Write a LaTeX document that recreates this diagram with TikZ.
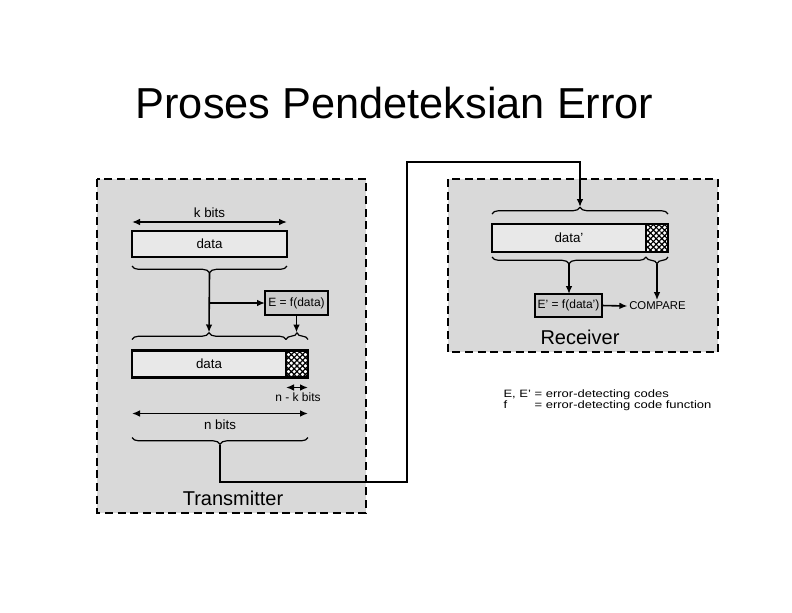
\documentclass[tikz,border=0pt]{standalone}
\usepackage{fontspec}
\usepackage{graphicx}
\setmainfont{Liberation Sans}
\usetikzlibrary{arrows.meta,calc,positioning,decorations.pathreplacing,patterns.meta}

\tikzset{every picture/.style={line width=0.75pt}}
\tikzset{
  sidebox/.style={draw, line width=1.4, dash pattern=on 6pt off 3.5pt, fill=black!15},
  databox/.style={draw, line width=1.6, fill=black!9, outer sep=0pt, inner sep=0pt, font=\fontsize{10}{12}\selectfont},
  codebox/.style={databox, fill=white, postaction={pattern={Hatch[angle=45,distance=3pt,line width=0.9pt]}}},
  funbox/.style={draw, line width=1.6, fill=black!20, inner sep=1pt, outer sep=0pt, font=\fontsize{9}{11}\selectfont},
  bitlbl/.style={inner sep=0.75pt, font=\fontsize{10}{12}\selectfont},
  smalllbl/.style={inner sep=0.75pt, font=\fontsize{9}{11}\selectfont},
  sidelbl/.style={inner sep=0.75pt, font=\fontsize{15}{18}\selectfont},
  curly/.style={decorate, decoration={brace, amplitude=5pt}, line width=0.9},
  flow/.style={line width=1.2, -{Latex[length=6pt,width=5pt]}},
  span/.style={line width=1.2, {Latex[length=6pt,width=5pt]}-{Latex[length=6pt,width=5pt]}},
}

\begin{document}
\begin{tikzpicture}[x=0.75pt,y=0.75pt,yscale=-1,xscale=1]
\useasboundingbox (0,0) rectangle (792,612);

% Title
\node (title) at (394.5,103) {\fontsize{32.5}{38}\selectfont Proses Pendeteksian Error};

% Panels
\draw[sidebox] (97,179) rectangle (366,513);
\draw[sidebox] (448,179) rectangle (718,352);

%% Transmitter
\node[databox, minimum width=116.25pt, minimum height=19.5pt] (data1) at (209.5,244) {data};
\draw[span] ($(data1.north west)+(0,-9)$) -- ($(data1.north east)+(0,-9)$);
\node[bitlbl] (kbits) at (209.5,213) {k bits};
% brace under data
\draw[curly] ($(data1.south east)+(0,9)$) -- ($(data1.south west)+(0,9)$);
\coordinate (t1) at ($(data1.south)+(0,16)$);

\node[funbox, minimum width=47.25pt, minimum height=18pt] (efun) at (296.5,303) {E = f(data)};

\node[databox, minimum width=115.5pt, minimum height=20.25pt] (data2) at (209,364) {data};
\node[codebox, minimum width=16.5pt, minimum height=20.25pt, right=0pt of data2] (code2) {};
% braces over data and code
\draw[curly] ($(data2.north west)+(0,-11)$) -- ($(data2.north east)+(0,-11)$);
\draw[curly] ($(code2.north west)+(0,-11)$) -- ($(code2.north east)+(0,-11)$);
\coordinate (t2) at ($(data2.north)+(0,-18)$);
\coordinate (t3) at ($(code2.north)+(0,-18)$);

%Straight Lines
\draw[flow] (t1) -- (t2);
\coordinate (split) at (t1 |- efun.west);
\draw[flow] (split) -- (efun.west);
\draw[flow] (efun.south) -- (efun.south |- t3);

% bit widths
\draw[span] ($(code2.south west)+(0,10)$) -- ($(code2.south east)+(0,10)$);
\node[smalllbl] (nkbits) at (298,397) {n - k bits};
\draw[span] ($(data2.south west)+(0,36)$) -- ($(code2.south east)+(0,36)$);
\node[bitlbl] (nbits) at (220,425) {n bits};
\draw[curly] ($(code2.south east)+(0,60)$) -- ($(data2.south west)+(0,60)$);
\coordinate (t4) at ($(data2.south west)!0.5!(code2.south east)+(0,67)$);

\node[sidelbl] (tx) at (233,498) {Transmitter};

%% Receiver
\node[databox, minimum width=115.5pt, minimum height=21pt] (data3) at (569,238) {data'};
\node[codebox, minimum width=16.5pt, minimum height=21pt, right=0pt of data3] (code3) {};
\draw[curly] ($(data3.north west)+(0,-10)$) -- ($(code3.north east)+(0,-10)$);
\coordinate (r1) at ($(data3.north west)!0.5!(code3.north east)+(0,-17)$);
\draw[curly] ($(data3.south east)+(0,5)$) -- ($(data3.south west)+(0,5)$);
\draw[curly] ($(code3.south east)+(0,5)$) -- ($(code3.south west)+(0,5)$);
\coordinate (r2) at ($(data3.south)+(0,12)$);
\coordinate (r3) at ($(code3.south)+(0,12)$);

\node[funbox, minimum width=50.25pt, minimum height=17.25pt] (efunr) at (568.5,305.5) {E' = f(data')};
\node[inner sep=1pt, font=\fontsize{8.5}{10}\selectfont] (cmp) at (657.5,306) {COMPARE};

\draw[flow] (r2) -- (r2 |- efunr.north);
\draw[flow] (r3) -- (r3 |- cmp.north);
\draw[flow] (efunr.east) -- (cmp.west);

\node[sidelbl] (rx) at (580,337) {Receiver};

% Link transmitter -> receiver
\coordinate (bend1) at (407,482);
\coordinate (bend2) at (407,162);
\draw[flow] (t4) |- (bend1) -- (bend2) -| (r1);

% Legend
\node[anchor=north west, inner sep=0pt, font=\fontsize{8}{8.25}\selectfont] (legend) at (503,389)
  {\scalebox{1.22}[1]{\begin{tabular}{@{}l@{ }l@{}}E, E' & = error-detecting codes\\ f & = error-detecting code function\end{tabular}}};

\end{tikzpicture}
\end{document}
